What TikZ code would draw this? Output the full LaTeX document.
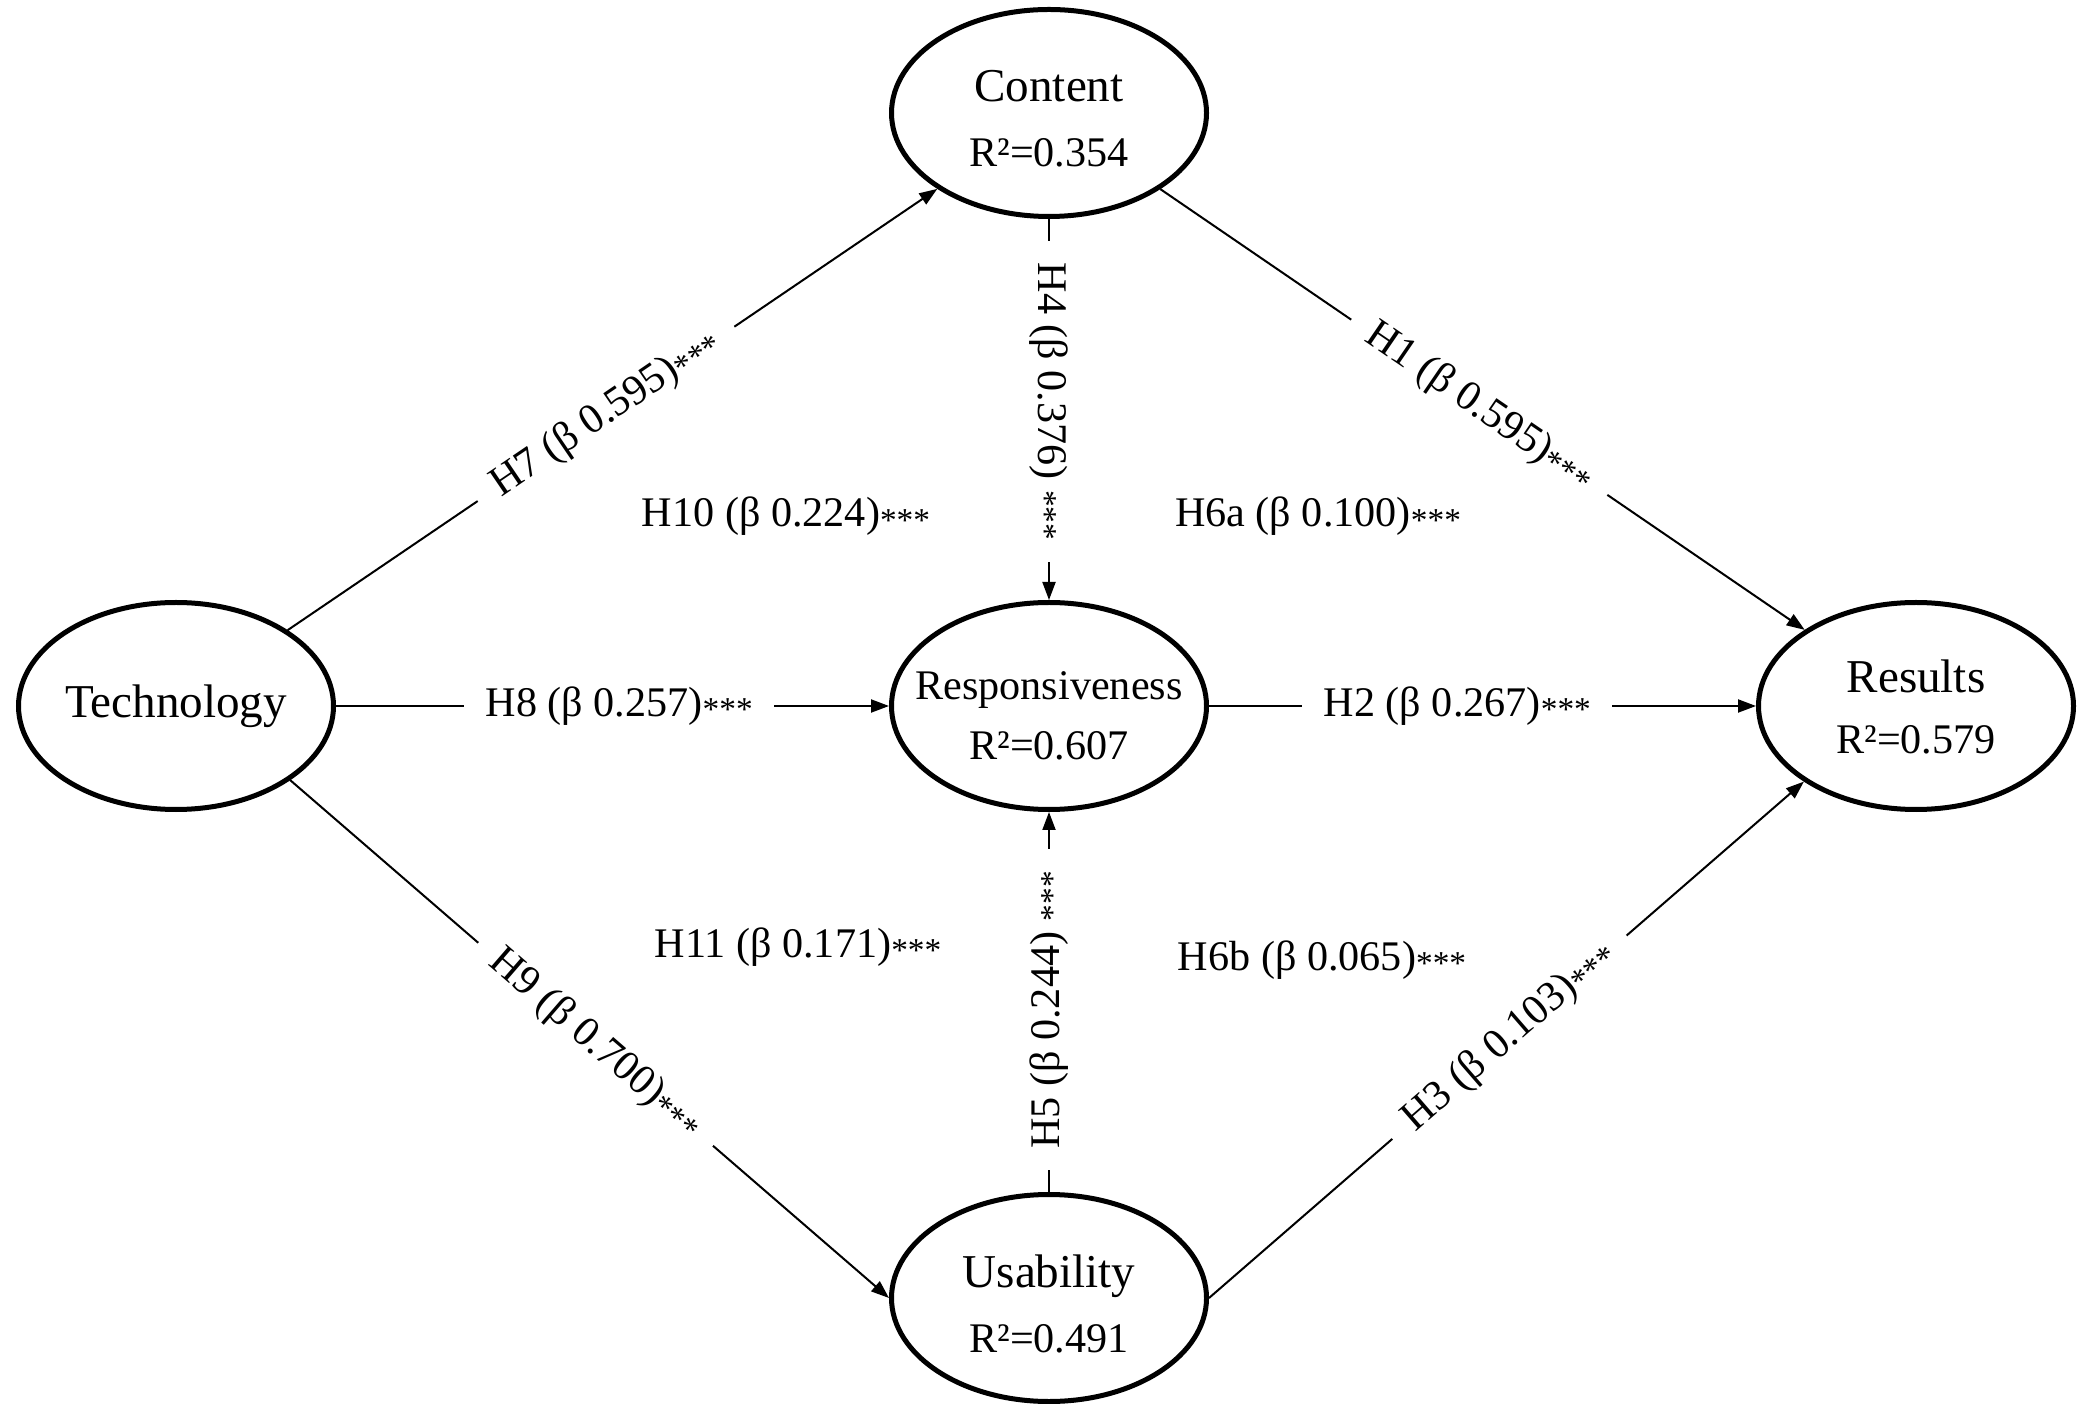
\documentclass[tikz,border=0pt]{standalone}
\usepackage{fontspec}
\setmainfont{Liberation Serif}
\usetikzlibrary{shapes.geometric,arrows.meta}
\newcommand\sigstars{{\fontsize{9.5}{9.5}\selectfont\raisebox{-1.2pt}{***}}}
\begin{document}
\begin{tikzpicture}[
  construct/.style={ellipse, draw, line width=0.05cm, minimum width=3.15cm, minimum height=2.07cm, inner sep=0pt},
  namefont/.style={font=\fontsize{13.4}{16}\selectfont, inner sep=0pt, anchor=base},
  rfont/.style={font=\fontsize{12}{14}\selectfont, inner sep=0pt, anchor=base},
  conn/.style={line width=0.02cm, -{Triangle[length=0.18cm,width=0.13cm]}},
  onlab/.style={fill=white, font=\fontsize{12}{14}\selectfont, minimum width=3.1cm, inner ysep=1pt, inner xsep=0pt},
  freelab/.style={font=\fontsize{12}{14}\selectfont, inner sep=0pt, anchor=base}
]
\useasboundingbox[fill=white] (0,0) rectangle (20.79,-14.04);

% constructs
\node[construct] (tech) at (1.76,-7.06) {};
\node[construct] (content) at (10.49,-1.13) {};
\node[construct] (resp) at (10.49,-7.06) {};
\node[construct] (results) at (19.16,-7.06) {};
\node[construct] (usab) at (10.49,-12.98) {};

% construct texts
\node[namefont] (techN) at (1.76,-7.18) {Technology};
\node[namefont] (contentN) at (10.49,-1.02) {Content};
\node[rfont] (contentR) at (10.49,-1.67) {R²=0.354};
\node[rfont] (respN) at (10.49,-7.00) {Responsiveness};
\node[rfont] (respR) at (10.49,-7.60) {R²=0.607};
\node[namefont] (resultsN) at (19.16,-6.93) {Results};
\node[rfont] (resultsR) at (19.16,-7.54) {R²=0.579};
\node[namefont] (usabN) at (10.49,-12.87) {Usability};
\node[rfont] (usabR) at (10.49,-13.52) {R²=0.491};

% paths
\draw[conn] (tech) -- node[onlab, sloped, pos=0.49] (h7) {H7 (β 0.595)\sigstars} (content);
\draw[conn] (content) -- node[onlab, sloped, pos=0.495] (h1) {H1 (β 0.595)\sigstars} (results);
\draw[conn] (tech.-33) -- node[onlab, sloped, pos=0.51] (h9) {H9 (β 0.700)\sigstars} (usab.west);
\draw[conn] (usab.east) -- node[onlab, sloped, pos=0.505] (h3) {H3 (β 0.103)\sigstars} (results.214);
\draw[conn] (tech) -- node[onlab, pos=0.512] (h8) {H8 (β 0.257)\sigstars} (resp);
\draw[conn] (resp) -- node[onlab, pos=0.454] (h2) {H2 (β 0.267)\sigstars} (results);
\draw[conn] (content) -- node[onlab, rotate=-90, minimum width=3.21cm, pos=0.479] (h4) {H4 (β 0.376) \sigstars} (resp);
\draw[conn] (usab) -- node[onlab, rotate=90, minimum width=3.21cm, pos=0.479] (h5) {H5 (β 0.244) \sigstars} (resp);

% free labels
\node[freelab] (h10) at (7.86,-5.27) {H10 (β 0.224)\sigstars};
\node[freelab] (h6a) at (13.18,-5.27) {H6a (β 0.100)\sigstars};
\node[freelab] (h11) at (7.98,-9.57) {H11 (β 0.171)\sigstars};
\node[freelab] (h6b) at (13.22,-9.70) {H6b (β 0.065)\sigstars};
\end{tikzpicture}
\end{document}
